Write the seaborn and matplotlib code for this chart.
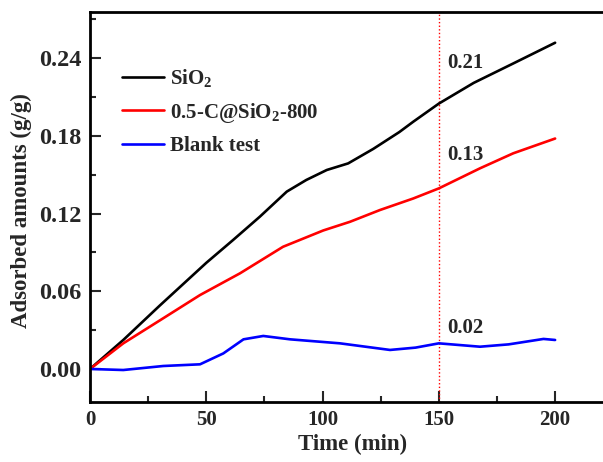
import numpy as np
import pandas as pd
import seaborn as sns
import matplotlib
matplotlib.use("Agg")
import matplotlib.pyplot as plt
from matplotlib.ticker import MultipleLocator

# Adsorption curves (time in min, adsorbed amount in g/g)
sio2_t = [0, 14.3, 30, 50, 61.5, 73, 84.6, 93, 101.8, 111, 121.8, 133, 139, 150, 165, 182, 200]
sio2_q = [0, 0.0224, 0.049, 0.082, 0.0996, 0.1176, 0.137, 0.146, 0.1537, 0.1588, 0.170,
          0.183, 0.191, 0.205, 0.221, 0.236, 0.252]

c_sio2_t = [0, 14.3, 30, 47.3, 64.5, 83, 100.3, 111.8, 124.7, 139, 150, 167.7, 182, 200]
c_sio2_q = [0, 0.0198, 0.0375, 0.0571, 0.0739, 0.0944, 0.107, 0.1137, 0.1228, 0.1317,
            0.1395, 0.155, 0.1666, 0.178]

blank_t = [0, 14.3, 31.5, 47.3, 57.3, 66, 74.5, 86, 107.5, 129, 140, 150, 167.7, 180, 195, 200]
blank_q = [0, -0.0008, 0.0023, 0.0036, 0.012, 0.0229, 0.0255, 0.0229, 0.0198, 0.0147,
           0.0165, 0.0198, 0.0172, 0.019, 0.0232, 0.0224]

series_names = ["SiO$_2$", "0.5-C@SiO$_2$-800", "Blank test"]
series_colors = ["#000000", "#ff0000", "#0000ff"]

mark_time = 150
mark_labels = ["0.21", "0.13", "0.02"]
mark_label_y = [0.236, 0.165, 0.0317]

x_ticks = [0, 50, 100, 150, 200]
y_ticks = [0.00, 0.06, 0.12, 0.18, 0.24]

df = pd.concat([
    pd.DataFrame({"t": sio2_t, "q": sio2_q, "sample": series_names[0]}),
    pd.DataFrame({"t": c_sio2_t, "q": c_sio2_q, "sample": series_names[1]}),
    pd.DataFrame({"t": blank_t, "q": blank_q, "sample": series_names[2]}),
])

sns.set_theme(style="ticks")
plt.rcParams["font.family"] = ["Liberation Serif", "DejaVu Serif"]
plt.rcParams["font.weight"] = "bold"
plt.rcParams["mathtext.fontset"] = "custom"
plt.rcParams["mathtext.rm"] = "Liberation Serif:bold"
plt.rcParams["mathtext.it"] = "Liberation Serif:bold"
plt.rcParams["mathtext.bf"] = "Liberation Serif:bold"
plt.rcParams["mathtext.default"] = "rm"

fs = 15
fig = plt.figure(figsize=(6.03, 4.62), dpi=100)
ax = fig.add_axes([0.1493, 0.1299, 0.887, 0.844])

sns.lineplot(data=df, x="t", y="q", hue="sample", hue_order=series_names,
             palette=series_colors, linewidth=1.9, ax=ax, sort=True,
             estimator=None)

# reference time marker with its value labels
ax.axvline(mark_time, color="#ff0000", linestyle=(0, (1, 1.6)), linewidth=1.0, zorder=1)
for lab, yy in zip(mark_labels, mark_label_y):
    ax.text(mark_time + 3.5, yy, lab, fontsize=fs, fontweight="bold",
            ha="left", va="center")

ax.set_xlim(0, 230)
ax.set_ylim(-0.0255, 0.2757)
ax.set_xticks(x_ticks)
ax.set_yticks(y_ticks)
ax.set_xticklabels([str(v) for v in x_ticks])
ax.set_yticklabels([f"{v:.2f}" for v in y_ticks])
ax.xaxis.set_minor_locator(MultipleLocator(25))
ax.yaxis.set_minor_locator(MultipleLocator(0.03))
ax.tick_params(which="major", direction="in", length=8, width=1.5, pad=6)
ax.tick_params(which="minor", direction="in", length=4.5, width=1.5)
ax.tick_params(axis="x", labelsize=fs)
ax.tick_params(axis="y", labelsize=17.5)
ax.tick_params(top=False, right=False, which="both")
for lbl in ax.get_xticklabels() + ax.get_yticklabels():
    lbl.set_fontweight("bold")
for s in ax.spines.values():
    s.set_linewidth(2)
    s.set_color("black")

ax.set_xlabel("Time (min)", fontsize=16.5, fontweight="bold", labelpad=7)
ax.xaxis.set_label_coords(0.49, -0.083)
ax.set_ylabel("Adsorbed amounts (g/g)", fontsize=16.5, fontweight="bold")
ax.yaxis.set_label_coords(-0.108, 0.49)

leg = ax.legend(loc="upper left", bbox_to_anchor=(0.045, 0.88), frameon=False,
                fontsize=fs, handlelength=2.0, handletextpad=0.3, labelspacing=0.55,
                borderaxespad=0)
for t in leg.get_texts():
    t.set_fontweight("bold")

fig.savefig("out.png", dpi=100)
